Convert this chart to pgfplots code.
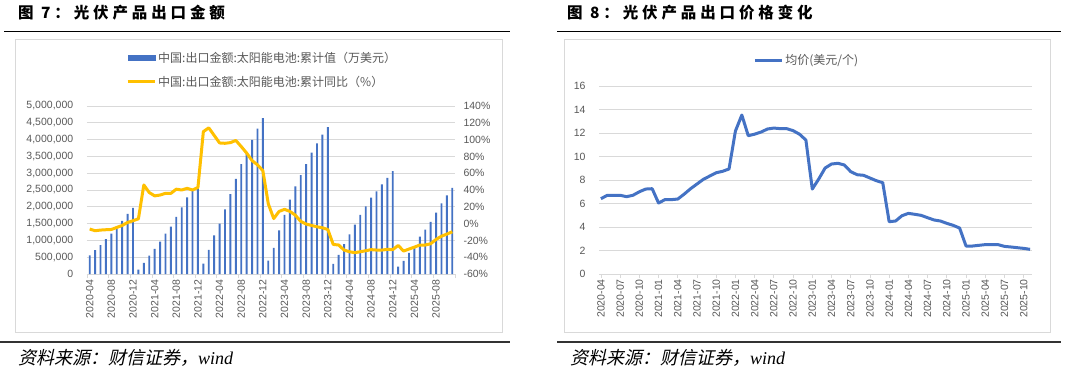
\documentclass[border=0pt]{standalone}
\usepackage{pgfplots}
\pgfplotsset{compat=1.18}
\usepackage{fontspec}
\setmainfont{Liberation Sans}
\newfontfamily\cjk{Noto Sans CJK SC}
\newfontfamily\cjkt[LetterSpace=25]{Noto Sans CJK SC}
\newfontfamily\cjki[FakeSlant=0.22]{Noto Sans CJK SC}
\newfontfamily\seri{Liberation Serif}
\definecolor{barblue}{HTML}{4472C4}
\definecolor{gold}{HTML}{FFC000}
\definecolor{txt}{HTML}{595959}
\definecolor{gridc}{HTML}{D9D9D9}
\definecolor{framec}{HTML}{D9D9D9}

\pgfplotsset{
  base/.style={
    scale only axis,
    anchor=south west,
    tick label style={font=\fontsize{10.5}{12}\selectfont, text=txt},
    /pgf/number format/assume math mode=true,
    grid style={gridc, line width=0.9pt},
    tick style={gridc, line width=0.8pt},
    y axis line style={draw=none},
    ytick style={draw=none},
  },
}

\begin{document}
\begin{tikzpicture}[x=1pt,y=1pt]
\useasboundingbox (0,0) rectangle (1066,373);
\fill[white] (0,0) rectangle (1066,373);
% frames
\draw[framec, line width=0.9pt] (15,41) rectangle (502,334);
\draw[framec, line width=0.9pt] (564,41) rectangle (1050,334);
% rules
\draw[black, line width=1.5pt] (4,341.5) -- (510,341.5);
\draw[black, line width=1.5pt] (557,341.5) -- (1061,341.5);
\draw[black!80, line width=2pt] (0,31) -- (510,31);
\draw[black!80, line width=2pt] (557,31) -- (1061,31);
% titles
\node[anchor=west, inner sep=0] at (18,360) {\cjkt\bfseries\fontsize{15.5}{18}\selectfont 图 7：光伏产品出口金额};
\node[anchor=west, inner sep=0] at (567,360) {\cjkt\bfseries\fontsize{15.5}{18}\selectfont 图 8：光伏产品出口价格变化};
% sources
\node[anchor=west, inner sep=0] at (18,15) {\cjki\fontsize{18}{21}\selectfont 资料来源：财信证券，{\seri\itshape wind}};
\node[anchor=west, inner sep=0] at (570,15) {\cjki\fontsize{18}{21}\selectfont 资料来源：财信证券，{\seri\itshape wind}};

% ---------- left chart: bars ----------
\begin{axis}[base,
  at={(87pt,99pt)}, width=368pt, height=168pt,
  xmin=-0.5, xmax=67.5, ymin=0, ymax=5000000,
  axis x line*=bottom, axis y line*=left,
  x axis line style={gridc, line width=0.9pt},
  ymajorgrids,
  scaled y ticks=false,
  ytick={0,500000,1000000,1500000,2000000,2500000,3000000,3500000,4000000,4500000,5000000},
  yticklabel style={/pgf/number format/fixed, /pgf/number format/1000 sep={,}, xshift=-6pt},
  xtick={0,4,...,64},
  xticklabels={2020-04,2020-08,2020-12,2021-04,2021-08,2021-12,2022-04,2022-08,2022-12,2023-04,2023-08,2023-12,2024-04,2024-08,2024-12,2025-04,2025-08},
  xticklabel style={rotate=90, anchor=east, inner sep=1pt},
  major x tick style={draw=none},
  minor xtick={-0.5,3.5,...,67.5},
  minor tick length=4pt,
  tick align=outside,
  xtick pos=bottom,
]
\addplot[ybar, bar width=1.9pt, fill=barblue, draw=none] coordinates {
(0,555000)(1,713000)(2,861000)(3,1040000)(4,1200000)(5,1350000)(6,1580000)(7,1790000)(8,1970000)
(9,130000)(10,330000)(11,545000)(12,750000)(13,960000)(14,1200000)(15,1410000)(16,1700000)(17,1980000)(18,2280000)(19,2490000)(20,2550000)
(21,310000)(22,720000)(23,1150000)(24,1500000)(25,1920000)(26,2380000)(27,2830000)(28,3270000)(29,3590000)(30,3990000)(31,4330000)(32,4640000)
(33,400000)(34,780000)(35,1300000)(36,1760000)(37,2210000)(38,2610000)(39,2940000)(40,3270000)(41,3610000)(42,3890000)(43,4150000)(44,4370000)
(45,300000)(46,570000)(47,890000)(48,1180000)(49,1470000)(50,1760000)(51,2010000)(52,2270000)(53,2460000)(54,2670000)(55,2860000)(56,3060000)
(57,220000)(58,390000)(59,630000)(60,790000)(61,1110000)(62,1320000)(63,1550000)(64,1830000)(65,2100000)(66,2340000)(67,2560000)
};
\end{axis}

% ---------- left chart: yoy line ----------
\begin{axis}[base,
  at={(87pt,99pt)}, width=368pt, height=168pt,
  xmin=-0.5, xmax=67.5, ymin=-60, ymax=140,
  axis y line*=right, axis x line=none,
  ytick={-60,-40,-20,0,20,40,60,80,100,120,140},
  yticklabel={\pgfmathprintnumber{\tick}\%},
  yticklabel style={xshift=5pt},
  legend style={at={(0.106,1.33)}, anchor=north west, draw=none, fill=none,
    font=\cjk\fontsize{12}{14}\selectfont, text=txt, inner sep=0pt, row sep=10.5pt,
    nodes={inner xsep=2pt, inner ysep=1pt}},
  legend cell align=left,
]
\addlegendimage{legend image code/.code={\fill[barblue] (0pt,-2.5pt) rectangle (27pt,2.5pt);}}
\addlegendentry{中国:出口金额:太阳能电池:累计值（万美元）}
\addplot[gold, line width=3pt, line join=round,
  legend image code/.code={\draw[gold, line width=3pt] (0pt,0pt) -- (27pt,0pt);}] coordinates {
(0,-6.5)(1,-8.5)(2,-7.7)(3,-7.3)(4,-7)(5,-4.6)(6,-2.2)(7,1.4)(8,3.4)
(9,5.7)(10,46)(11,37)(12,33)(13,34)(14,36)(15,36)(16,41)(17,40)(18,42)(19,40)(20,43)
(21,109.5)(22,114)(23,105)(24,96)(25,95.6)(26,96.4)(27,99)(28,91.7)(29,84)(30,75)(31,70)(32,63)
(33,23.6)(34,6)(35,14.5)(36,17)(37,14.5)(38,10)(39,2.6)(40,-0.6)(41,-2.2)(42,-3.8)(43,-5)(44,-7)
(45,-24.8)(46,-25.5)(47,-31.5)(48,-33.5)(49,-34.6)(50,-33.5)(51,-32.3)(52,-31)(53,-31.5)(54,-31.5)(55,-30.7)(56,-31)
(57,-26)(58,-32.7)(59,-30.3)(60,-28)(61,-25.5)(62,-25.5)(63,-24)(64,-18.8)(65,-15)(66,-12.5)(67,-9.7)
};
\addlegendentry{中国:出口金额:太阳能电池:累计同比（\%）}
\end{axis}

% ---------- right chart: price ----------
\begin{axis}[base,
  at={(599pt,99pt)}, width=433pt, height=188pt,
  xmin=-0.3, xmax=67.3, ymin=0, ymax=16,
  axis x line*=bottom, axis y line*=left,
  x axis line style={gridc, line width=0.9pt},
  ymajorgrids,
  ytick={0,2,...,16},
  yticklabel style={xshift=-6pt},
  xtick={0,3,...,66},
  xticklabels={2020-04,2020-07,2020-10,2021-01,2021-04,2021-07,2021-10,2022-01,2022-04,2022-07,2022-10,2023-01,2023-04,2023-07,2023-10,2024-01,2024-04,2024-07,2024-10,2025-01,2025-04,2025-07,2025-10},
  xticklabel style={rotate=90, anchor=east, inner sep=1pt},
  major tick length=4pt,
  tick align=outside,
  xtick pos=bottom,
  legend style={at={(0.356,1.175)}, anchor=north west, draw=none, fill=none,
    font=\cjk\fontsize{12}{14}\selectfont, text=txt, inner sep=0pt,
    nodes={inner xsep=2pt, inner ysep=1pt}},
]
\addplot[barblue, line width=3pt, line join=round,
  legend image code/.code={\draw[barblue, line width=3pt] (0pt,0pt) -- (27pt,0pt);}] coordinates {
(0,6.41)(1,6.7)(2,6.7)(3,6.7)(4,6.58)(5,6.7)(6,7.0)(7,7.23)(8,7.26)
(9,6.04)(10,6.33)(11,6.33)(12,6.38)(13,6.8)(14,7.26)(15,7.66)(16,8.06)(17,8.34)(18,8.62)(19,8.74)(20,8.94)
(21,12.17)(22,13.53)(23,11.77)(24,11.9)(25,12.08)(26,12.34)(27,12.42)(28,12.37)(29,12.37)(30,12.2)(31,11.9)(32,11.4)
(33,7.23)(34,8.08)(35,9.02)(36,9.36)(37,9.42)(38,9.28)(39,8.71)(40,8.45)(41,8.4)(42,8.17)(43,7.94)(44,7.77)
(45,4.45)(46,4.51)(47,4.96)(48,5.16)(49,5.08)(50,4.99)(51,4.79)(52,4.6)(53,4.51)(54,4.31)(55,4.14)(56,3.91)
(57,2.38)(58,2.38)(59,2.44)(60,2.5)(61,2.5)(62,2.5)(63,2.35)(64,2.3)(65,2.24)(66,2.18)(67,2.1)
};
\addlegendentry{均价(美元/个)}
\end{axis}
\end{tikzpicture}
\end{document}
